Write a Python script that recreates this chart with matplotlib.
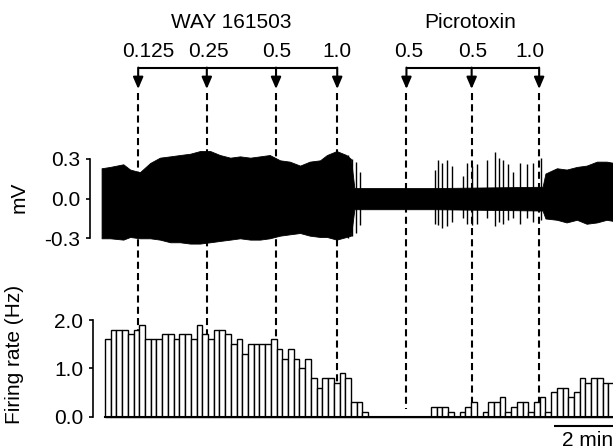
import matplotlib
matplotlib.use("Agg")
import matplotlib.pyplot as plt

plt.rcParams['font.family'] = ['Liberation Sans', 'DejaVu Sans']
FS = 15

# firing rate, 10 s bins from t = 0 (Hz)
bin_s = 10
firing_rate = [1.6, 1.8, 1.8, 1.8, 1.7, 1.8, 1.9, 1.6, 1.6, 1.6,
               1.7, 1.7, 1.6, 1.7, 1.7, 1.6, 1.9, 1.7, 1.6, 1.8,
               1.8, 1.7, 1.5, 1.6, 1.3, 1.5, 1.5, 1.5, 1.5, 1.6,
               1.4, 1.2, 1.4, 1.2, 1.0, 1.2, 0.8, 0.6, 0.8, 0.8,
               0.7, 0.9, 0.8, 0.3, 0.3, 0.1, 0, 0, 0, 0,
               0, 0, 0, 0, 0, 0, 0, 0.2, 0.2, 0.2,
               0.1, 0, 0.1, 0.2, 0.3, 0, 0.1, 0.3, 0.3, 0.4,
               0.1, 0.2, 0.3, 0.3, 0.1, 0.3, 0.4, 0.1, 0.5, 0.6,
               0.6, 0.4, 0.5, 0.8, 0.7, 0.8, 0.8, 0.7, 0.7]

# drug applications (s)
way_label = "WAY 161503"
way_doses = ["0.125", "0.25", "0.5", "1.0"]
way_times = [58, 178, 299, 406]
ptx_label = "Picrotoxin"
ptx_doses = ["0.5", "0.5", "1.0"]
ptx_times = [527, 641, 759]

# extracellular trace envelope (s, mV)
env_t = [-6, 9, 32, 44, 61, 79, 96, 114, 131, 149, 166, 184, 201,
         219, 236, 254, 271, 288, 306, 323, 341, 358, 376, 388, 405,
         422, 430, 436, 575, 765, 770, 790, 807, 825, 842, 860, 877, 890]
env_hi = [0.23, 0.24, 0.26, 0.22, 0.20, 0.27, 0.31, 0.32, 0.33, 0.34,
          0.36, 0.36, 0.33, 0.31, 0.32, 0.31, 0.32, 0.33, 0.29, 0.28,
          0.25, 0.28, 0.29, 0.33, 0.36, 0.33, 0.30, 0.08, 0.08, 0.09,
          0.19, 0.23, 0.22, 0.24, 0.25, 0.28, 0.28, 0.27]
env_lo = [-0.30, -0.30, -0.31, -0.29, -0.30, -0.30, -0.31, -0.33, -0.33, -0.34,
          -0.34, -0.33, -0.32, -0.31, -0.30, -0.31, -0.31, -0.30, -0.28, -0.27,
          -0.26, -0.28, -0.29, -0.29, -0.31, -0.29, -0.28, -0.08, -0.08, -0.09,
          -0.15, -0.16, -0.18, -0.16, -0.19, -0.18, -0.16, -0.17]

# isolated spikes (s, peak mV, trough mV)
spike_t = [425, 432, 439, 446, 577, 583, 590, 598, 606, 626, 632, 641, 650,
           667, 681, 688, 696, 705, 714, 726, 737, 749, 763]
spike_hi = [0.33, 0.30, 0.28, 0.20, 0.22, 0.29, 0.27, 0.29, 0.25, 0.17, 0.27, 0.25, 0.26,
            0.29, 0.35, 0.31, 0.29, 0.26, 0.20, 0.27, 0.26, 0.27, 0.31]
spike_lo = [-0.30, -0.28, -0.26, -0.20, -0.19, -0.20, -0.22, -0.21, -0.18, -0.15, -0.19, -0.20, -0.19,
            -0.15, -0.21, -0.18, -0.19, -0.16, -0.15, -0.19, -0.15, -0.18, -0.16]

W, H = 613, 448


def t_of(px):
    return (px - 105) * 10 / 5.72


fig = plt.figure(figsize=(W / 100, H / 100), dpi=100)

# overlay for drug markers, dashed lines, scale bar
over = fig.add_axes([0, 0, 1, 1])
over.set_xlim(t_of(0), t_of(W))
over.set_ylim(H, 0)
over.axis('off')
over.set_zorder(0)

# trace
tr = fig.add_axes([90 / W, 1 - 252 / H, (W - 90) / W, 112 / H])
tr.set_zorder(1)
tr.patch.set_alpha(0)
tr.set_xlim(t_of(90), t_of(W))
tr.set_ylim((198.65 - 252) / 132.2, (198.65 - 140) / 132.2)
tr.fill_between(env_t, env_lo, env_hi, color='black', lw=0.6)
tr.vlines(spike_t, spike_lo, spike_hi, color='black', lw=1.0)
for s in ['top', 'right', 'bottom']:
    tr.spines[s].set_visible(False)
tr.spines['left'].set_bounds(-0.3, 0.3)
tr.spines['left'].set_linewidth(1.2)
tr.set_xticks([])
tr.set_yticks([-0.3, 0.0, 0.3])
tr.set_yticklabels(['-0.3', '0.0', '0.3'])
tr.tick_params(axis='y', labelsize=FS, length=3, width=1.2, pad=4)

# firing rate histogram
hist = fig.add_axes([93 / W, 1 - 425 / H, (W - 93) / W, 125 / H])
hist.set_zorder(1)
hist.patch.set_alpha(0)
hist.set_xlim(t_of(93), t_of(W))
hist.set_ylim((416.6 - 425) / 48.3, (416.6 - 300) / 48.3)
starts = [i * bin_s for i in range(len(firing_rate))]
hist.bar(starts, firing_rate, width=bin_s, align='edge', facecolor='white',
         edgecolor='black', lw=1.0)
for s in ['top', 'right']:
    hist.spines[s].set_visible(False)
hist.spines['bottom'].set_position(('data', 0))
hist.spines['bottom'].set_bounds(0, t_of(W) + 10)
hist.spines['bottom'].set_linewidth(1.5)
hist.spines['left'].set_bounds(0, 2)
hist.spines['left'].set_linewidth(1.2)
hist.set_xticks([])
hist.set_yticks([0, 1, 2])
hist.set_yticklabels(['0.0', '1.0', '2.0'])
hist.tick_params(axis='y', labelsize=FS, length=3, width=1.2, pad=4)

fig.text(19 / W, 1 - 197 / H, "mV", rotation=90, ha='center', va='center', fontsize=FS)
fig.text(14 / W, 1 - 354 / H, "Firing rate (Hz)", rotation=90, ha='center', va='center',
         fontsize=FS)

# drug brackets, arrows and dashed lines
groups = [(way_label, way_doses, way_times, [10, 1.6, 1, 0], 231.7),
          (ptx_label, ptx_doses, ptx_times, [2, 1, -9], 470)]
for label, doses, times, offs, cx in groups:
    over.plot([times[0], times[-1]], [68.3, 68.3], color='black', lw=1.5,
              solid_capstyle='butt')
    over.text(t_of(cx), 23, label, ha='center', va='center', fontsize=FS)
    for d, t, o in zip(doses, times, offs):
        over.text(t + o * 10 / 5.72, 51.5, d, ha='center', va='center', fontsize=FS)
        over.annotate('', xy=(t, 89), xytext=(t, 67.6),
                      arrowprops=dict(arrowstyle='-|>,head_length=0.7,head_width=0.3',
                                      color='black', lw=1.5, shrinkA=0, shrinkB=0))
        over.plot([t, t], [93, 409], color='black', lw=1.5, linestyle=(0, (3.4, 2.0)))

# scale bar 2 min
sb0 = t_of(553.7)
over.plot([sb0, sb0 + 120], [426, 426], color='black', lw=1.5, solid_capstyle='butt')
over.text(sb0 + 60, 440, "2 min", ha='center', va='center', fontsize=FS)

fig.savefig("out.png", dpi=100)
